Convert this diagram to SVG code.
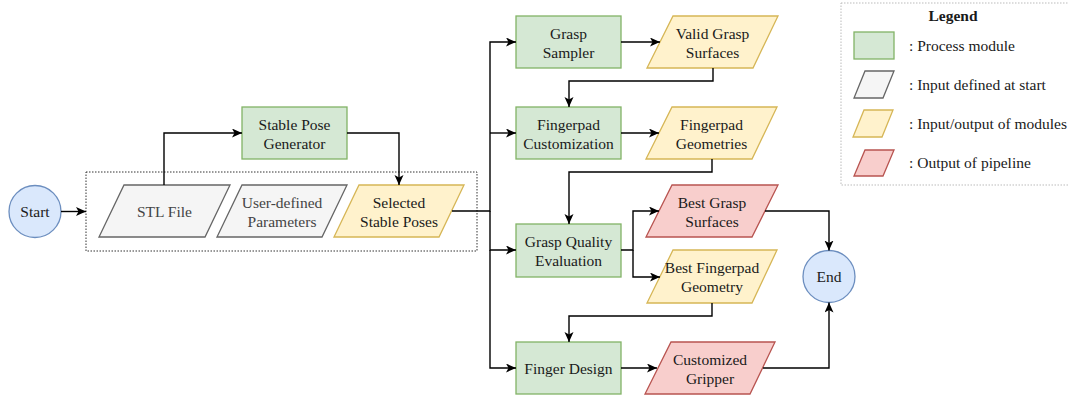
<svg xmlns="http://www.w3.org/2000/svg" width="1068" height="398" viewBox="0 0 1068 398">
<defs>
<marker id="arr" markerUnits="userSpaceOnUse" markerWidth="11" markerHeight="10" refX="10" refY="4.5" orient="auto">
<path d="M0,0 L10,4.5 L0,9 L2.5,4.5 z" fill="#000"/>
</marker>
<style>
text{font-family:"Liberation Serif","Times New Roman",serif;font-size:15.5px;fill:#1a1a1a;text-anchor:middle}
.lg{text-anchor:start}
.gray{fill:#f5f5f5;stroke:#666666;stroke-width:1.3}
.gtext{fill:#444}
.green{fill:#d5e8d4;stroke:#82b366;stroke-width:1.3}
.yellow{fill:#fff2cc;stroke:#d6b656;stroke-width:1.3}
.red{fill:#f8cecc;stroke:#b85450;stroke-width:1.3}
.blue{fill:#dae8fc;stroke:#6c8ebf;stroke-width:1.3}
.conn path{fill:none;stroke:#000;stroke-width:1.4;marker-end:url(#arr)}
</style>
</defs>
<rect width="1068" height="398" fill="#fff"/>

<g id="inputs-group">
<rect x="86" y="172" width="391" height="79" fill="none" stroke="#333" stroke-width="1" stroke-dasharray="1.5 1.5"/>
</g>

<g id="start"><circle class="blue" cx="35" cy="211.5" r="26"/><text x="35" y="217">Start</text></g>
<g id="stl"><path class="gray" d="M124,185 H230 L205,237 H99 Z"/><text class="gtext" x="164.5" y="216.5">STL File</text></g>
<g id="params"><path class="gray" d="M242,185 H347 L322,237 H217 Z"/><text class="gtext" x="282" y="207.5">User-defined</text><text class="gtext" x="282" y="226.5">Parameters</text></g>
<g id="selected"><path class="yellow" d="M359,185 H464 L439,237 H334 Z"/><text x="399" y="207.5">Selected</text><text x="399" y="226.5">Stable Poses</text></g>
<g id="spg"><rect class="green" x="242" y="107" width="105" height="52"/><text x="294.5" y="129.5">Stable Pose</text><text x="294.5" y="148.5">Generator</text></g>

<g id="gs"><rect class="green" x="516" y="16" width="105" height="52"/><text x="568.5" y="38.5">Grasp</text><text x="568.5" y="57.5">Sampler</text></g>
<g id="fc"><rect class="green" x="516" y="107" width="105" height="52"/><text x="568.5" y="129.5">Fingerpad</text><text x="568.5" y="148.5">Customization</text></g>
<g id="gqe"><rect class="green" x="516" y="224" width="105" height="53"/><text x="568.5" y="246.5">Grasp Quality</text><text x="568.5" y="265.5">Evaluation</text></g>
<g id="fd"><rect class="green" x="516" y="342" width="105" height="52"/><text x="568.5" y="373.5">Finger Design</text></g>

<g id="vgs"><path class="yellow" d="M673,16 H778 L753,68 H647 Z"/><text x="712.5" y="38.5">Valid Grasp</text><text x="712.5" y="57.5">Surfaces</text></g>
<g id="fg"><path class="yellow" d="M672,107 H777 L752,159 H646 Z"/><text x="711.5" y="129.5">Fingerpad</text><text x="711.5" y="148.5">Geometries</text></g>
<g id="bgs"><path class="red" d="M672,185 H778 L752,237 H646 Z"/><text x="712" y="207.5">Best Grasp</text><text x="712" y="226.5">Surfaces</text></g>
<g id="bfg"><path class="yellow" d="M673,250 H777 L752,303 H647 Z"/><text x="712" y="272.5">Best Fingerpad</text><text x="712" y="291.5">Geometry</text></g>
<g id="cg"><path class="red" d="M671,342 H775 L750,394 H645 Z"/><text x="710" y="364.5">Customized</text><text x="710" y="383.5">Gripper</text></g>
<g id="end"><circle class="blue" cx="829" cy="276.5" r="26"/><text x="829" y="282">End</text></g>

<g class="conn" id="connectors">
<path d="M61,211.5 H86"/>
<path d="M164,185 V133 H242"/>
<path d="M347,133 H399 V185"/>
<path d="M452,211 H490 V42 H516"/>
<path d="M490,133 H516"/>
<path d="M490,211 V250 H516"/>
<path d="M490,250 V368 H516"/>
<path d="M621,42 H660"/>
<path d="M713,68 V81 H569 V107"/>
<path d="M621,133 H659"/>
<path d="M712,159 V172 H569 V224"/>
<path d="M621,250 H633 V211 H659"/>
<path d="M633,250 V277 H660"/>
<path d="M712,303 V316 H569 V342"/>
<path d="M765,211 H829 V250.5"/>
<path d="M621,368 H657"/>
<path d="M763,368 H829 V302.5"/>
</g>

<g id="legend">
<rect x="841" y="3" width="240" height="182" fill="#fff" stroke="#bbb" stroke-width="1" stroke-dasharray="1.5 1.5"/>
<text x="953" y="21" font-weight="bold">Legend</text>
<rect class="green" x="854" y="32" width="40" height="27"/>
<path class="gray" d="M865,71 H894 L883,98 H854 Z"/>
<path class="yellow" d="M864,110 H893 L882,137 H853 Z"/>
<path class="red" d="M865,150 H894 L883,176 H854 Z"/>
<text class="lg" x="909" y="51">: Process module</text>
<text class="lg" x="909" y="90">: Input defined at start</text>
<text class="lg" x="909" y="129">: Input/output of modules</text>
<text class="lg" x="909" y="168">: Output of pipeline</text>
</g>
</svg>
